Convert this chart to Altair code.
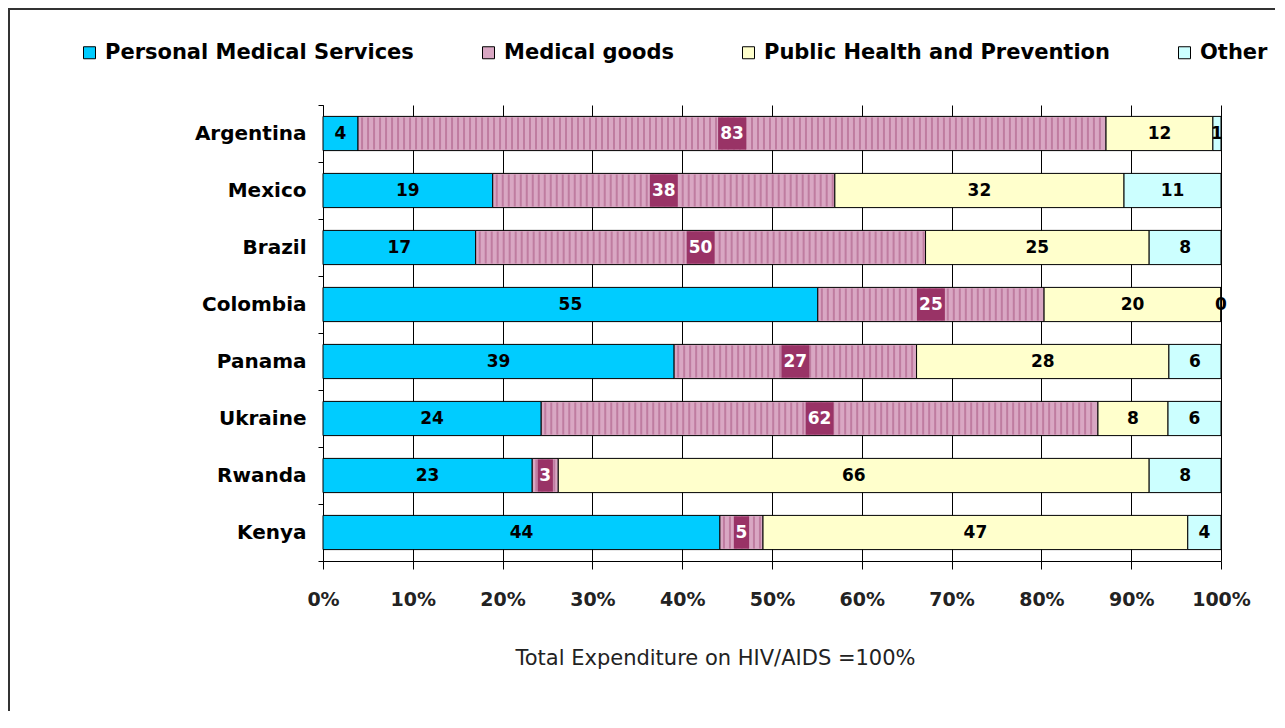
import altair as alt
import pandas as pd

countries = ["Argentina", "Mexico", "Brazil", "Colombia", "Panama", "Ukraine", "Rwanda", "Kenya"]
categories = ["Personal Medical Services", "Medical goods", "Public Health and Prevention", "Other"]
personal = [3.9, 18.9, 17.0, 55.1, 39.1, 24.3, 23.3, 44.2]
goods = [83.3, 38.1, 50.1, 25.2, 27.0, 62.0, 2.9, 4.8]
public = [11.9, 32.2, 24.9, 19.7, 28.1, 7.8, 65.8, 47.3]
other = [0.9, 10.8, 8.0, 0.0, 5.8, 5.9, 8.0, 3.7]
labels_personal = [4, 19, 17, 55, 39, 24, 23, 44]
labels_goods = [83, 38, 50, 25, 27, 62, 3, 5]
labels_public = [12, 32, 25, 20, 28, 8, 66, 47]
labels_other = [1, 11, 8, 0, 6, 6, 8, 4]
ticks = [0, 10, 20, 30, 40, 50, 60, 70, 80, 90, 100]

colors = ["#00CCFF", "#D9A7C3", "#FFFFCC", "#CCFFFF"]
FONT = "DejaVu Sans"
XTITLE = "Total Expenditure on HIV/AIDS =100%"

rows = []
series = [personal, goods, public, other]
labs = [labels_personal, labels_goods, labels_public, labels_other]
for i, c in enumerate(countries):
    for j, cat in enumerate(categories):
        rows.append({"country": c, "cat": cat, "order": j,
                     "value": series[j][i], "label": str(labs[j][i])})
df = pd.DataFrame(rows)

xscale = alt.Scale(domain=[0, 100], nice=False, zero=False)
yscale = alt.Scale(domain=countries, paddingInner=0, paddingOuter=0)

base = alt.Chart(df).transform_stack(
    stack="value", groupby=["country"], sort=[alt.SortField("order")], as_=["x0", "x1"]
).transform_calculate(mid="(datum.x0 + datum.x1) / 2")

xaxis = alt.Axis(
    values=ticks, labelExpr="datum.value + '%'", grid=True, gridColor="black",
    gridWidth=1, gridOpacity=1, domainColor="black", domainWidth=1, tickColor="black",
    tickSize=8, labelFont=FONT, labelFontWeight="bold", labelFontSize=19,
    labelColor="#222222", labelPadding=21, labelFlush=False, title=XTITLE, titleFont=FONT,
    titleFontWeight="normal", titleFontSize=21, titleColor="#222222",
    titleX=392, titleY=103, titleAlign="center", titleBaseline="alphabetic",
)
yaxis = alt.Axis(
    title=None, tickBand="extent", grid=False, domainColor="black", tickColor="black",
    tickSize=5, labelFont=FONT, labelFontWeight="bold", labelFontSize=20,
    labelColor="black", labelPadding=12,
)

bars = base.mark_bar(height=alt.RelativeBandSize(0.6), stroke="black", strokeWidth=1,
                     opacity=1).encode(
    x=alt.X("x0:Q", scale=xscale, axis=xaxis, title=XTITLE),
    x2="x1:Q",
    y=alt.Y("country:N", scale=yscale, sort=countries, axis=yaxis),
    color=alt.Color(
        "cat:N",
        scale=alt.Scale(domain=categories, range=colors),
        legend=alt.Legend(
            title=None, orient="none", legendX=-244, legendY=-63, direction="horizontal",
            symbolType="square", symbolSize=144, symbolStrokeColor="black",
            symbolStrokeWidth=1, symbolOpacity=1, labelFont=FONT, labelFontWeight="bold",
            labelFontSize=21, labelColor="black", labelLimit=600, columnPadding=64,
            labelOffset=5, padding=0,
        ),
    ),
)

stripes = base.transform_filter("datum.order == 1").transform_calculate(
    s="sequence(datum.x0 + 0.45, datum.x1 - 0.2, 0.668)"
).transform_flatten(["s"]).mark_tick(
    orient="vertical", size=32, thickness=2, color="#BF7CA0", opacity=1
).encode(
    x=alt.X("s:Q", scale=xscale, title=XTITLE),
    y=alt.Y("country:N", scale=yscale, sort=countries),
)

p1 = "M-0.45,-0.95L0.45,-0.95L0.45,0.95L-0.45,0.95Z"
p2 = "M-0.82,-0.95L0.82,-0.95L0.82,0.95L-0.82,0.95Z"
boxes = base.transform_filter("datum.order == 1").transform_calculate(
    nd="length(datum.label) > 1 ? 'two' : 'one'"
).mark_point(filled=True, opacity=1, size=1156, color="#993366", strokeWidth=0).encode(
    x=alt.X("mid:Q", scale=xscale, title=XTITLE),
    y=alt.Y("country:N", scale=yscale, sort=countries),
    shape=alt.Shape("nd:N", scale=alt.Scale(domain=["one", "two"], range=[p1, p2]),
                    legend=None),
)

texts = base.mark_text(font=FONT, fontWeight="bold", fontSize=17, baseline="middle",
                       align="center").encode(
    x=alt.X("mid:Q", scale=xscale, title=XTITLE),
    y=alt.Y("country:N", scale=yscale, sort=countries),
    text="label:N",
    color=alt.condition("datum.order == 1", alt.value("white"), alt.value("black")),
)

frame = alt.Chart(alt.Data(values=[{"k": 1}])).mark_rect(
    filled=False, stroke="#333333", strokeWidth=2
).encode(x=alt.value(-314), x2=alt.value(1000), y=alt.value(-96), y2=alt.value(700))

chart = alt.layer(frame, bars, stripes, boxes, texts).properties(
    width=898, height=456,
    padding={"left": 315, "top": 97, "right": 54, "bottom": 150},
    autosize=alt.AutoSizeParams(type="none"),
).configure_view(stroke=None)

chart.save("out.html", embed_options={"renderer": "svg", "actions": False})
